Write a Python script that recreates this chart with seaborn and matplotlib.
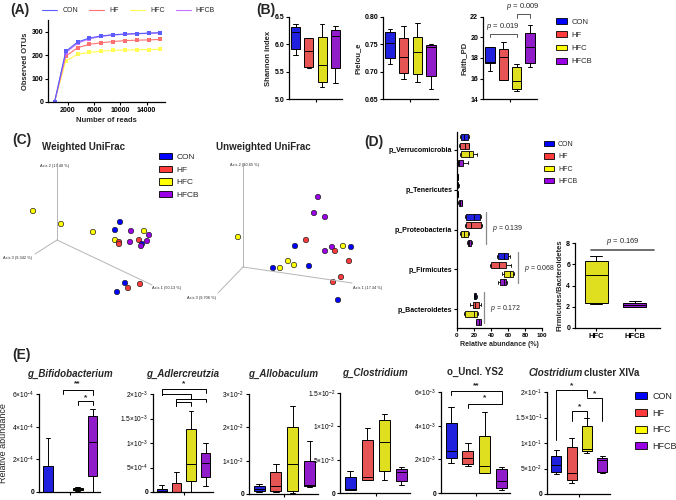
import numpy as np
import pandas as pd
import seaborn as sns
import matplotlib.pyplot as plt
from matplotlib.patches import Patch
from matplotlib.lines import Line2D

W, H = 676, 500
groups = ['CON', 'HF', 'HFC', 'HFCB']
palette = {'CON': '#0000ff', 'HF': '#ff3b3b', 'HFC': '#ffff00', 'HFCB': '#9900e6'}
line_palette = {'CON': '#5c5cff', 'HF': '#ff7070', 'HFC': '#ffff55', 'HFCB': '#c870ff'}

# (A) rarefaction curves
reads = [0, 1700, 3500, 5300, 7100, 8900, 10700, 12500, 14300, 16100]
otus_con = [0, 216, 256, 273, 282, 287, 290, 292, 294, 296]
otus_hf = [0, 195, 232, 246, 253, 258, 262, 264, 265, 267]
otus_hfc = [0, 175, 203, 212, 217, 220, 222, 223, 224, 225]
otus_hfcb = [0, 210, 251, 270, 280, 286, 289, 291, 293, 295]

# (B) alpha diversity, five-number summaries (min, q1, median, q3, max)
shannon = {'CON': [5.80, 5.92, 6.22, 6.32, 6.37], 'HF': [5.56, 5.58, 5.88, 6.12, 6.12],
           'HFC': [5.22, 5.31, 5.63, 6.13, 6.38], 'HFCB': [5.30, 5.56, 6.15, 6.26, 6.33]}
pielou = {'CON': [0.714, 0.725, 0.753, 0.772, 0.778], 'HF': [0.687, 0.697, 0.726, 0.762, 0.783],
          'HFC': [0.682, 0.695, 0.736, 0.764, 0.789], 'HFCB': [0.669, 0.692, 0.745, 0.749, 0.751]}
faith = {'CON': [16.76, 17.47, 17.60, 19.12, 19.12], 'HF': [15.90, 15.90, 18.10, 18.86, 19.60],
         'HFC': [14.75, 14.98, 15.75, 17.08, 17.40], 'HFCB': [17.10, 17.50, 19.06, 20.40, 21.20]}

# (C) PCoA, projected positions of each sample
wu_x = [33, 61, 93, 120, 115, 131, 144, 149, 115, 119, 119, 130, 139, 147, 142, 141, 125, 140, 128, 117]
wu_y = [211, 224, 232, 222, 230, 231, 231, 235, 240, 242, 244, 242, 240, 241, 244, 246, 283, 284, 288, 292]
wu_group = ['HFC', 'HFC', 'HFC', 'CON', 'CON', 'HFCB', 'HFC', 'HFCB', 'HFC', 'HF',
            'HF', 'HFCB', 'HF', 'HFCB', 'CON', 'HFCB', 'CON', 'HF', 'HF', 'CON']
uu_x = [318, 314, 325, 238, 306, 295, 332, 343, 351, 325, 335, 288, 294, 309, 349, 273, 280, 341, 333, 338]
uu_y = [197, 213, 217, 237, 240, 246, 247, 246, 247, 251, 251, 261, 265, 266, 261, 268, 268, 277, 282, 300]
uu_group = ['HFCB', 'HFCB', 'HFCB', 'HFC', 'HF', 'CON', 'HFCB', 'HFC', 'CON', 'HFCB',
            'HF', 'HFC', 'HFC', 'CON', 'HF', 'CON', 'HFC', 'HF', 'HF', 'CON']

# (D) phylum relative abundance (%)
phyla = ['p_Verrucomicrobia', 'p_Tenericutes', 'p_Proteobacteria', 'p_Firmicutes', 'p_Bacteroidetes']
verruco = {'CON': [3.1, 5.1, 7.8, 12.9, 14.5], 'HF': [2.0, 3.1, 9.0, 13.7, 14.5],
           'HFC': [3.0, 5.0, 14.5, 18.8, 23.5], 'HFCB': [0.8, 0.8, 2.0, 7.0, 12.5]}
teneri = {'CON': [0.3, 0.5, 0.8, 1.2, 1.5], 'HF': [0.3, 0.6, 0.9, 1.3, 1.8],
          'HFC': [0.2, 0.4, 0.6, 1.0, 1.4], 'HFCB': [1.0, 2.0, 3.5, 5.5, 6.0]}
proteo = {'CON': [9.8, 11.0, 20.0, 26.7, 28.0], 'HF': [9.8, 11.0, 16.9, 28.6, 29.5],
          'HFC': [3.9, 5.0, 8.6, 12.5, 14.5], 'HFCB': [11.8, 12.5, 14.5, 16.5, 18.0]}
firmi = {'CON': [47.0, 47.8, 55.0, 59.6, 62.7], 'HF': [38.4, 40.0, 49.0, 58.0, 63.5],
         'HFC': [53.0, 55.0, 62.7, 66.0, 66.7], 'HFCB': [48.2, 50.0, 55.0, 58.0, 58.8]}
bacte = {'CON': [19.6, 20.4, 21.6, 22.7, 23.5], 'HF': [15.7, 18.4, 21.6, 25.5, 28.2],
         'HFC': [8.6, 9.8, 19.6, 23.5, 24.7], 'HFCB': [22.4, 22.7, 25.5, 28.2, 28.2]}
phylum_data = [verruco, teneri, proteo, firmi, bacte]
fb_groups = ['HFC', 'HFCB']
fb_ratio = {'HFC': [2.24, 2.40, 5.00, 6.32, 6.73], 'HFCB': [2.00, 2.00, 2.18, 2.37, 2.56]}

# (E) genus-level relative abundance
bifido = {'CON': [0, 0, 0, 1.6e-4, 3.3e-4], 'HF': [0, 0.01e-5, 0.02e-5, 0.04e-5, 0.05e-5],
          'HFC': [0.05e-4, 0.1e-4, 0.2e-4, 0.25e-4, 0.31e-4], 'HFCB': [0, 0.95e-4, 3.08e-4, 4.64e-4, 5.07e-4]}
adler = {'CON': [0, 0.1e-4, 0.3e-4, 0.55e-4, 1.37e-4], 'HF': [0, 0, 0, 1.9e-4, 4.0e-4],
         'HFC': [0, 2.2e-4, 5.8e-4, 12.8e-4, 16.6e-4], 'HFCB': [1.2e-4, 3.1e-4, 6.0e-4, 8.0e-4, 10.1e-4]}
allo = {'CON': [0.05e-2, 0.08e-2, 0.15e-2, 0.23e-2, 0.30e-2], 'HF': [0.06e-2, 0.08e-2, 0.25e-2, 0.65e-2, 0.89e-2],
        'HFC': [0.03e-2, 0.08e-2, 0.89e-2, 2.01e-2, 2.65e-2], 'HFCB': [0.21e-2, 0.25e-2, 0.28e-2, 1.0e-2, 1.58e-2]}
clost = {'CON': [0.04e-2, 0.05e-2, 0.06e-2, 0.24e-2, 0.33e-2], 'HF': [0.20e-2, 0.20e-2, 0.24e-2, 0.79e-2, 0.97e-2],
         'HFC': [0.20e-2, 0.33e-2, 0.77e-2, 1.09e-2, 1.18e-2], 'HFCB': [0.12e-2, 0.18e-2, 0.32e-2, 0.36e-2, 0.39e-2]}
ys2 = {'CON': [1.8e-3, 2.09e-3, 2.52e-3, 4.13e-3, 5.1e-3], 'HF': [1.6e-3, 1.7e-3, 2.09e-3, 2.52e-3, 2.96e-3],
       'HFC': [1.16e-3, 1.16e-3, 1.6e-3, 3.39e-3, 4.8e-3], 'HFCB': [0.19e-3, 0.29e-3, 0.74e-3, 1.45e-3, 1.55e-3]}
xiva = {'CON': [0.383e-1, 0.435e-1, 0.565e-1, 0.747e-1, 0.857e-1], 'HF': [0.22e-1, 0.27e-1, 0.42e-1, 0.922e-1, 1.10e-1],
        'HFC': [0.805e-1, 0.838e-1, 0.877e-1, 1.34e-1, 1.49e-1], 'HFCB': [0.42e-1, 0.435e-1, 0.66e-1, 0.708e-1, 0.74e-1]}

sns.set_theme(style='ticks')
plt.rcParams['font.family'] = ['Liberation Sans', 'DejaVu Sans']
plt.rcParams['mathtext.fontset'] = 'custom'
plt.rcParams['mathtext.rm'] = 'Liberation Sans'
plt.rcParams['mathtext.it'] = 'Liberation Sans:italic'
plt.rcParams['mathtext.bf'] = 'Liberation Sans:bold'
plt.rcParams['axes.linewidth'] = 0.9
plt.rcParams['axes.edgecolor'] = 'black'

fig = plt.figure(figsize=(6.76, 5.0), dpi=100)


def px_axes(x0, y0, x1, y1):
    return fig.add_axes([x0 / W, 1 - y1 / H, (x1 - x0) / W, (y1 - y0) / H])


def style_ticks(ax, size=5):
    ax.tick_params(length=2, width=0.8, pad=1.5, labelsize=size, colors='black')
    for lab in ax.get_xticklabels() + ax.get_yticklabels():
        lab.set_fontweight('bold')


def five_num_df(summary, order):
    rows = [(g, v) for g in order for v in summary[g]]
    return pd.DataFrame(rows, columns=['group', 'value'])


def draw_box(ax, summary, order=groups, width=0.68):
    sns.boxplot(data=five_num_df(summary, order), x='group', y='value', hue='group',
                order=order, hue_order=order, palette=palette, whis=(0, 100), width=width,
                linecolor='black', linewidth=0.7, fliersize=0, legend=False, ax=ax)
    ax.set_xlabel('')
    ax.set_ylabel('')
    sns.despine(ax=ax)


def bracket(ax, x1, x2, y, y1, y2, text=None, ty=None, size=6):
    ax.plot([x1, x1, x2, x2], [y1, y, y, y2], color='black', lw=0.7, clip_on=False)
    if text:
        ax.text((x1 + x2) / 2, ty, text, ha='center', va='center', fontsize=size,
                fontweight='bold', clip_on=False)


def patch_legend(x, y, size, spacing, hlen=1.4):
    handles = [Patch(facecolor=palette[g], edgecolor='black', linewidth=0.6, label=g) for g in groups]
    fig.legend(handles=handles, loc='upper left', bbox_to_anchor=(x / W, 1 - y / H),
               frameon=False, fontsize=size, handlelength=hlen, handleheight=0.8,
               labelspacing=spacing, handletextpad=0.6, borderaxespad=0, borderpad=0)


# ---------- (A)
rare = pd.DataFrame({'reads': reads * 4,
                     'otus': otus_con + otus_hf + otus_hfc + otus_hfcb,
                     'group': sum([[g] * len(reads) for g in groups], [])})
ax = px_axes(48, 20, 165, 102)
sns.lineplot(data=rare, x='reads', y='otus', hue='group', hue_order=['HFC', 'HF', 'HFCB', 'CON'],
             palette=line_palette, marker='s', markersize=2.6, markeredgewidth=0,
             linewidth=0.8, legend=False, ax=ax)
ax.set_xlim(-1000, 16800)
ax.set_ylim(0, 350)
ax.set_xticks([2000, 6000, 10000, 14000])
ax.set_yticks([0, 100, 200, 300])
ax.set_xlabel('Number of reads', fontsize=5.5, fontweight='bold', labelpad=2)
ax.set_ylabel('Observed OTUs', fontsize=5.5, fontweight='bold', labelpad=2)
sns.despine(ax=ax)
style_ticks(ax)
handles = [Line2D([], [], color=line_palette[g], lw=0.8, label=g) for g in groups]
fig.legend(handles=handles, loc='center left', bbox_to_anchor=(42 / W, 1 - 11 / H), ncol=4,
           frameon=False, fontsize=5, handlelength=2.2, columnspacing=1.6, handletextpad=0.7,
           borderaxespad=0, borderpad=0)

# ---------- (B)
for (x0, x1), data, lim, ticks, label in [
        ((289, 342), shannon, (5.0, 6.5), [5.0, 5.5, 6.0, 6.5], 'Shannon index'),
        ((383, 438), pielou, (0.65, 0.80), [0.65, 0.70, 0.75, 0.80], 'Pielou_e'),
        ((483, 537), faith, (14, 22), [14, 16, 18, 20, 22], 'Faith_PD')]:
    ax = px_axes(x0, 17, x1, 99)
    draw_box(ax, data)
    ax.set_ylim(*lim)
    ax.set_yticks(ticks)
    if label == 'Pielou_e':
        ax.set_yticklabels([f'{t:.2f}' for t in ticks])
    elif label == 'Shannon index':
        ax.set_yticklabels([f'{t:.1f}' for t in ticks])
    ax.set_xticks([1.5])
    ax.set_xticklabels([''])
    ax.set_ylabel(label, fontsize=5.5, fontweight='bold', labelpad=2)
    style_ticks(ax)
    if label == 'Faith_PD':
        ax.plot([0, 0, 2, 2], [20.05, 20.35, 20.35, 20.05], color='#555555', lw=0.7)
        ax.text(1, 20.5, r'$\it{p}$ = 0.019', ha='center', va='bottom', fontsize=5.5)
        ax.plot([2, 2, 3, 3], [21.9, 22.3, 22.3, 21.9], color='#555555', lw=0.7, clip_on=False)
        ax.text(2.5, 22.45, r'$\it{p}$ = 0.009', ha='center', va='bottom', fontsize=5.5, clip_on=False)
patch_legend(556, 18, 5.5, 0.75)

# ---------- (C)
axc = px_axes(0, 140, 450, 340)
axc.set_xlim(0, 450)
axc.set_ylim(340, 140)
axc.axis('off')
for origin, ends in [((57, 240), [(57, 163), (152, 285), (35, 254)]),
                     ((243, 267), [(243, 163), (352, 283), (218, 293)])]:
    for e in ends:
        axc.plot([origin[0], e[0]], [origin[1], e[1]], color='#b5b5b5', lw=0.7)
for x, y, s in [(40, 166, 'Axis 2 (17.40 %)'), (3, 258, 'Axis 3 (9.342 %)'), (152, 288, 'Axis 1 (50.13 %)'),
                (230, 165, 'Axis 2 (10.65 %)'), (353, 288, 'Axis 1 (17.34 %)'), (187, 298, 'Axis 3 (9.706 %)')]:
    axc.text(x, y, s, fontsize=2.8, va='center', ha='left')
pc = pd.DataFrame({'x': wu_x + uu_x, 'y': wu_y + uu_y, 'group': wu_group + uu_group})
sns.scatterplot(data=pc, x='x', y='y', hue='group', palette=palette, s=15, edgecolor='#222222',
                linewidth=0.5, legend=False, ax=axc)
axc.text(83, 147, 'Weighted UniFrac', ha='center', va='center', fontsize=7, fontweight='bold')
axc.text(263, 147, 'Unweighted UniFrac', ha='center', va='center', fontsize=7, fontweight='bold')
patch_legend(159, 153, 6, 0.55, hlen=1.5)

# ---------- (D)
phy = pd.DataFrame([(p, g, v) for p, d in zip(phyla, phylum_data) for g in groups for v in d[g]],
                   columns=['phylum', 'group', 'value'])
ax = px_axes(457, 132, 542, 328)
sns.boxplot(data=phy, x='value', y='phylum', hue='group', order=phyla, hue_order=groups,
            orient='h', palette=palette, whis=(0, 100), width=0.87, gap=0.3,
            linecolor='black', linewidth=0.6, fliersize=0, legend=False, ax=ax)
ax.set_xlim(0, 100)
ax.set_ylim(4.47, -0.45)
ax.set_xticks([0, 20, 40, 60, 80, 100])
ax.set_xlabel('Relative abundance (%)', fontsize=5, fontweight='bold', labelpad=2)
ax.set_ylabel('')
sns.despine(ax=ax)
style_ticks(ax, size=4.5)
for lab in ax.get_yticklabels():
    lab.set_fontsize(5)
for xv, cat, txt in [(34.5, 2, 'p = 0.139'), (71.8, 3, 'p = 0.068'), (31.4, 4, 'p = 0.172')]:
    ax.plot([xv, xv], [cat - 0.43, cat + 0.35], color='#8a8a8a', lw=0.9, clip_on=False)
    ax.text(xv + 7, cat - 0.03, r'$\it{p}$' + txt[1:], fontsize=5, va='center', ha='left', clip_on=False)
patch_legend(544, 141, 5, 0.75)

ax = px_axes(575, 243, 660, 328)
draw_box(ax, fb_ratio, order=fb_groups, width=0.6)
ax.set_xlim(-0.55, 1.65)
ax.set_ylim(0, 8)
ax.set_yticks([0, 2, 4, 6, 8])
ax.set_ylabel('Firmicutes/Bacteroidetes', fontsize=5.5, fontweight='bold', labelpad=2)
style_ticks(ax)
ax.tick_params(axis='x', labelsize=5.5)
ax.plot([-0.13, 1.5], [7.34, 7.34], color='#555555', lw=1.2, clip_on=False)
ax.text(0.68, 7.6, r'$\it{p}$ = 0.169', ha='center', va='bottom', fontsize=5.5, clip_on=False)

# ---------- (E)
e_specs = [
    ((39, 394, 100, 492), bifido, 6e-4, [0, 2e-4, 4e-4, 6e-4], ['0', r'$2{\times}10^{-4}$', r'$4{\times}10^{-4}$', r'$6{\times}10^{-4}$']),
    ((153, 394, 213, 492), adler, 2e-3, [0, 5e-4, 1e-3, 1.5e-3, 2e-3], ['0', r'$5{\times}10^{-4}$', r'$1{\times}10^{-3}$', r'$1.5{\times}10^{-3}$', r'$2{\times}10^{-3}$']),
    ((249, 394, 318, 494), allo, 3e-2, [0, 1e-2, 2e-2, 3e-2], ['0', r'$1{\times}10^{-2}$', r'$2{\times}10^{-2}$', r'$3{\times}10^{-2}$']),
    ((340, 393, 410, 493), clost, 1.5e-2, [0, 5e-3, 1e-2, 1.5e-2], ['0', r'$5{\times}10^{-3}$', r'$1{\times}10^{-2}$', r'$1.5{\times}10^{-2}$']),
    ((441, 392, 510, 493), ys2, 6e-3, [0, 2e-3, 4e-3, 6e-3], ['0', r'$2{\times}10^{-3}$', r'$4{\times}10^{-3}$', r'$6{\times}10^{-3}$']),
    ((547, 392, 610, 494), xiva, 2e-1, [0, 5e-2, 1e-1, 1.5e-1, 2e-1], ['0', r'$5{\times}10^{-2}$', r'$1{\times}10^{-1}$', r'$1.5{\times}10^{-1}$', r'$2{\times}10^{-1}$']),
]
e_axes = []
for (x0, y0, x1, y1), data, top, ticks, labels in e_specs:
    ax = px_axes(x0, y0, x1, y1)
    draw_box(ax, data, width=0.65)
    ax.set_ylim(0, top)
    ax.set_xlim(-0.6, 3.5)
    ax.set_yticks(ticks)
    ax.set_yticklabels(labels)
    ax.set_xticks([1.5])
    ax.set_xticklabels([''])
    style_ticks(ax, size=4.8)
    e_axes.append(ax)

titles = [('g_Bifidobacterium', 'bold', 'italic'), ('g_Adlercreutzia', 'bold', 'italic'),
          ('g_Allobaculum', 'bold', 'italic'), ('g_Clostridium', 'bold', 'italic'),
          ('o_Uncl. YS2', 'bold', 'normal')]
for ax, (t, w, st) in zip(e_axes, titles):
    ax.set_title(t, fontsize=7, fontweight=w, fontstyle=st, pad=12)
ax6 = e_axes[5]
ax6.text(0.56, 1.19, 'Clostridium', transform=ax6.transAxes, ha='right', va='center',
         fontsize=7, fontweight='bold', fontstyle='italic')
ax6.text(0.59, 1.19, 'cluster XIVa', transform=ax6.transAxes, ha='left', va='center',
         fontsize=7, fontweight='bold')
e_axes[0].set_ylabel('Relative abundance', fontsize=6.5, labelpad=3)

# significance brackets
a = e_axes[0]
bracket(a, 1, 3, 6.27e-4, 6.0e-4, 5.95e-4, '**', 6.6e-4)
bracket(a, 2, 3, 5.55e-4, 5.35e-4, 5.35e-4, '*', 5.8e-4)
a = e_axes[1]
bracket(a, 0, 3, 2.1e-3, 1.97e-3, 2.03e-3, '*', 2.2e-3)
bracket(a, 0, 2, 2.0e-3, 1.97e-3, 1.9e-3)
bracket(a, 1, 3, 1.9e-3, 1.75e-3, 1.83e-3)
bracket(a, 1, 2, 1.83e-3, 1.75e-3, 1.75e-3)
a = e_axes[4]
bracket(a, 0, 3, 6.06e-3, 5.8e-3, 5.28e-3, '**', 6.35e-3)
bracket(a, 1, 3, 5.28e-3, 5.05e-3, 5.28e-3, '*', 5.65e-3)
a = e_axes[5]
bracket(a, 0, 2, 2.03e-1, 1.05e-1, 1.9e-1, '*', 2.12e-1)
bracket(a, 1, 2, 1.62e-1, 1.44e-1, 1.5e-1, '*', 1.72e-1)
bracket(a, 2, 3, 1.89e-1, 1.89e-1, 1.44e-1, '*', 1.96e-1)
patch_legend(635, 392, 6.5, 0.85, hlen=1.3)

# panel labels
for x, y, s in [(10, 10, '(A)'), (256, 10, '(B)'), (12, 140, '(C)'), (364, 142, '(D)'), (12, 355, '(E)')]:
    fig.text(x / W, 1 - y / H, s, fontsize=10, fontweight='bold', ha='left', va='center')

fig.savefig('out.png', dpi=100)
